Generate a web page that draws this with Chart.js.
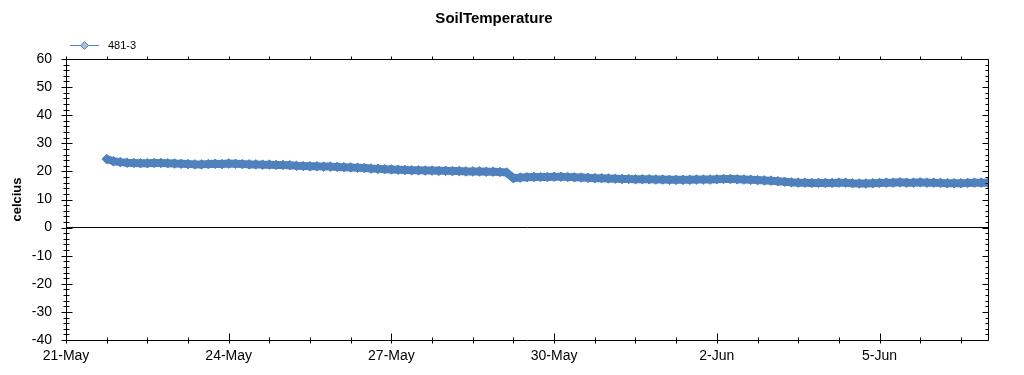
<!DOCTYPE html>
<html>
<head>
<meta charset="utf-8">
<script src="https://cdn.jsdelivr.net/npm/chart.js@4"></script>
<style>
  html, body { margin: 0; padding: 0; background: #fff; }
  canvas { display: block; }
</style>
</head>
<body>
<canvas id="soil" width="1024" height="375"></canvas>
<script>
// ── DATA ──
// readings every 3 hours, first one on 21-May 18:00 (x axis in days since 21-May 00:00)
const seriesName = '481-3';
const firstReading = 0.75;
const stepHours = 3;
const temps = [
    24.4, 23.6,
    23.3, 23.1, 23.0, 22.9, 22.9, 23.0, 23.0, 22.9,
    22.8, 22.7, 22.6, 22.5, 22.5, 22.6, 22.7, 22.6,
    22.8, 22.7, 22.6, 22.5, 22.5, 22.4, 22.4, 22.3,
    22.3, 22.2, 22.0, 21.9, 21.8, 21.8, 21.7, 21.7,
    21.6, 21.5, 21.4, 21.3, 21.2, 21.0, 20.9, 20.8,
    20.7, 20.6, 20.5, 20.4, 20.4, 20.3, 20.3, 20.2,
    20.2, 20.1, 20.1, 20.0, 20.0, 20.0, 19.9, 19.9,
    19.8, 19.6, 17.6, 17.8, 17.9, 18.0, 18.0, 18.0,
    18.1, 18.1, 18.0, 17.9, 17.8, 17.7, 17.6, 17.6,
    17.5, 17.4, 17.3, 17.3, 17.2, 17.2, 17.2, 17.1,
    17.1, 17.0, 17.0, 17.0, 17.0, 17.1, 17.1, 17.1,
    17.2, 17.3, 17.3, 17.2, 17.1, 17.0, 16.9, 16.8,
    16.7, 16.5, 16.3, 16.1, 16.0, 16.0, 15.9, 15.9,
    15.9, 15.9, 16.0, 16.0, 15.8, 15.7, 15.7, 15.8,
    15.9, 16.0, 16.0, 16.1, 16.0, 16.0, 16.1, 16.0,
    16.0, 15.9, 15.8, 15.8, 15.8, 15.9, 16.0, 16.0,
    16.0
];
const dayTicks = [0, 3, 6, 9, 12, 15];
const dayLabels = ['21-May', '24-May', '27-May', '30-May', '2-Jun', '5-Jun'];
const yTicks = [-40, -30, -20, -10, 0, 10, 20, 30, 40, 50, 60];

const points = temps.map((v, i) => ({ x: firstReading + i * stepHours / 24, y: v }));

const BLUE = '#4f81bd';
const FONT = "'Liberation Sans', Arial, sans-serif";

// box, zero line, crossing ticks and the legend (line + diamond)
const frame = {
    id: 'frame',
    afterDraw(chart) {
        const { ctx, chartArea: a, scales: { x, y } } = chart;
        const L = Math.round(a.left) + 0.5, R = Math.round(a.right) + 0.5;
        const T = Math.round(a.top) + 0.5, B = Math.round(a.bottom) + 0.5;
        ctx.save();
        ctx.strokeStyle = '#000';
        ctx.lineWidth = 1;
        ctx.beginPath();
        const zy = Math.round(y.getPixelForValue(0)) - 0.5;
        ctx.moveTo(L, zy); ctx.lineTo(R, zy);
        ctx.rect(L, T, R - L, B - T);
        // y ticks every 2
        for (let v = -40; v <= 60; v += 2) {
            const py = Math.round(y.getPixelForValue(v)) + 0.5;
            const major = v % 10 === 0;
            ctx.moveTo(L - (major ? 5 : 3), py); ctx.lineTo(L + (major ? 6 : 3), py);
            ctx.moveTo(R, py); ctx.lineTo(R - (major ? 6 : 3), py);
        }
        // x ticks every 18 hours
        for (let d = 0; d <= 17; d += 0.75) {
            const px = Math.round(x.getPixelForValue(d)) + 0.5;
            const major = Math.abs(d % 3) < 1e-6;
            ctx.moveTo(px, B + 3); ctx.lineTo(px, B - (major ? 7 : 3));
            ctx.moveTo(px, T); ctx.lineTo(px, T - 3);
        }
        ctx.stroke();

        // legend
        const ly = 45.5;
        ctx.strokeStyle = BLUE;
        ctx.beginPath();
        ctx.moveTo(70, ly); ctx.lineTo(99, ly);
        ctx.stroke();
        ctx.fillStyle = '#a9c0da';
        ctx.beginPath();
        ctx.moveTo(84.5, ly - 4); ctx.lineTo(88.5, ly); ctx.lineTo(84.5, ly + 4); ctx.lineTo(80.5, ly);
        ctx.closePath();
        ctx.fill(); ctx.stroke();
        ctx.fillStyle = '#000';
        ctx.font = '11px ' + FONT;
        ctx.textBaseline = 'middle';
        ctx.fillText(seriesName, 108, ly);
        ctx.restore();
    }
};

new Chart(document.getElementById('soil'), {
    type: 'line',
    data: {
        datasets: [{
            label: seriesName,
            data: points,
            borderColor: BLUE,
            borderWidth: 8,
            borderJoinStyle: 'round',
            pointStyle: 'rectRot',
            pointRadius: 4.8,
            pointBorderWidth: 1,
            pointBackgroundColor: BLUE,
            pointBorderColor: BLUE,
            tension: 0,
        }]
    },
    options: {
        responsive: false,
        animation: false,
        layout: { padding: { left: 0, right: 36, top: 0, bottom: 0 } },
        plugins: {
            legend: { display: false },
            tooltip: { enabled: false },
            title: {
                display: true,
                text: 'SoilTemperature',
                color: '#000',
                font: { family: FONT, size: 15, weight: 'bold' },
                padding: { top: 10, bottom: 31 }
            }
        },
        scales: {
            x: {
                type: 'linear',
                min: 0, max: 17,
                grid: { display: false, drawTicks: false },
                border: { display: false },
                afterBuildTicks: s => { s.ticks = dayTicks.map(v => ({ value: v })); },
                afterFit: s => { s.height = 35; },
                ticks: {
                    color: '#000',
                    padding: 8,
                    maxRotation: 0,
                    autoSkip: false,
                    font: { family: FONT, size: 14 },
                    callback: v => dayLabels[dayTicks.indexOf(v)] ?? ''
                }
            },
            y: {
                min: -40, max: 60,
                grid: { display: false, drawTicks: false },
                border: { display: false },
                afterBuildTicks: s => { s.ticks = yTicks.map(v => ({ value: v })); },
                afterFit: s => { s.width = 66; },
                ticks: {
                    color: '#000',
                    padding: 14,
                    font: { family: FONT, size: 14 }
                },
                title: {
                    display: true,
                    text: 'celcius',
                    color: '#000',
                    font: { family: FONT, size: 13, weight: 'bold' },
                    padding: { top: 10, bottom: 0 }
                }
            }
        }
    },
    plugins: [frame]
});
</script>
</body>
</html>
